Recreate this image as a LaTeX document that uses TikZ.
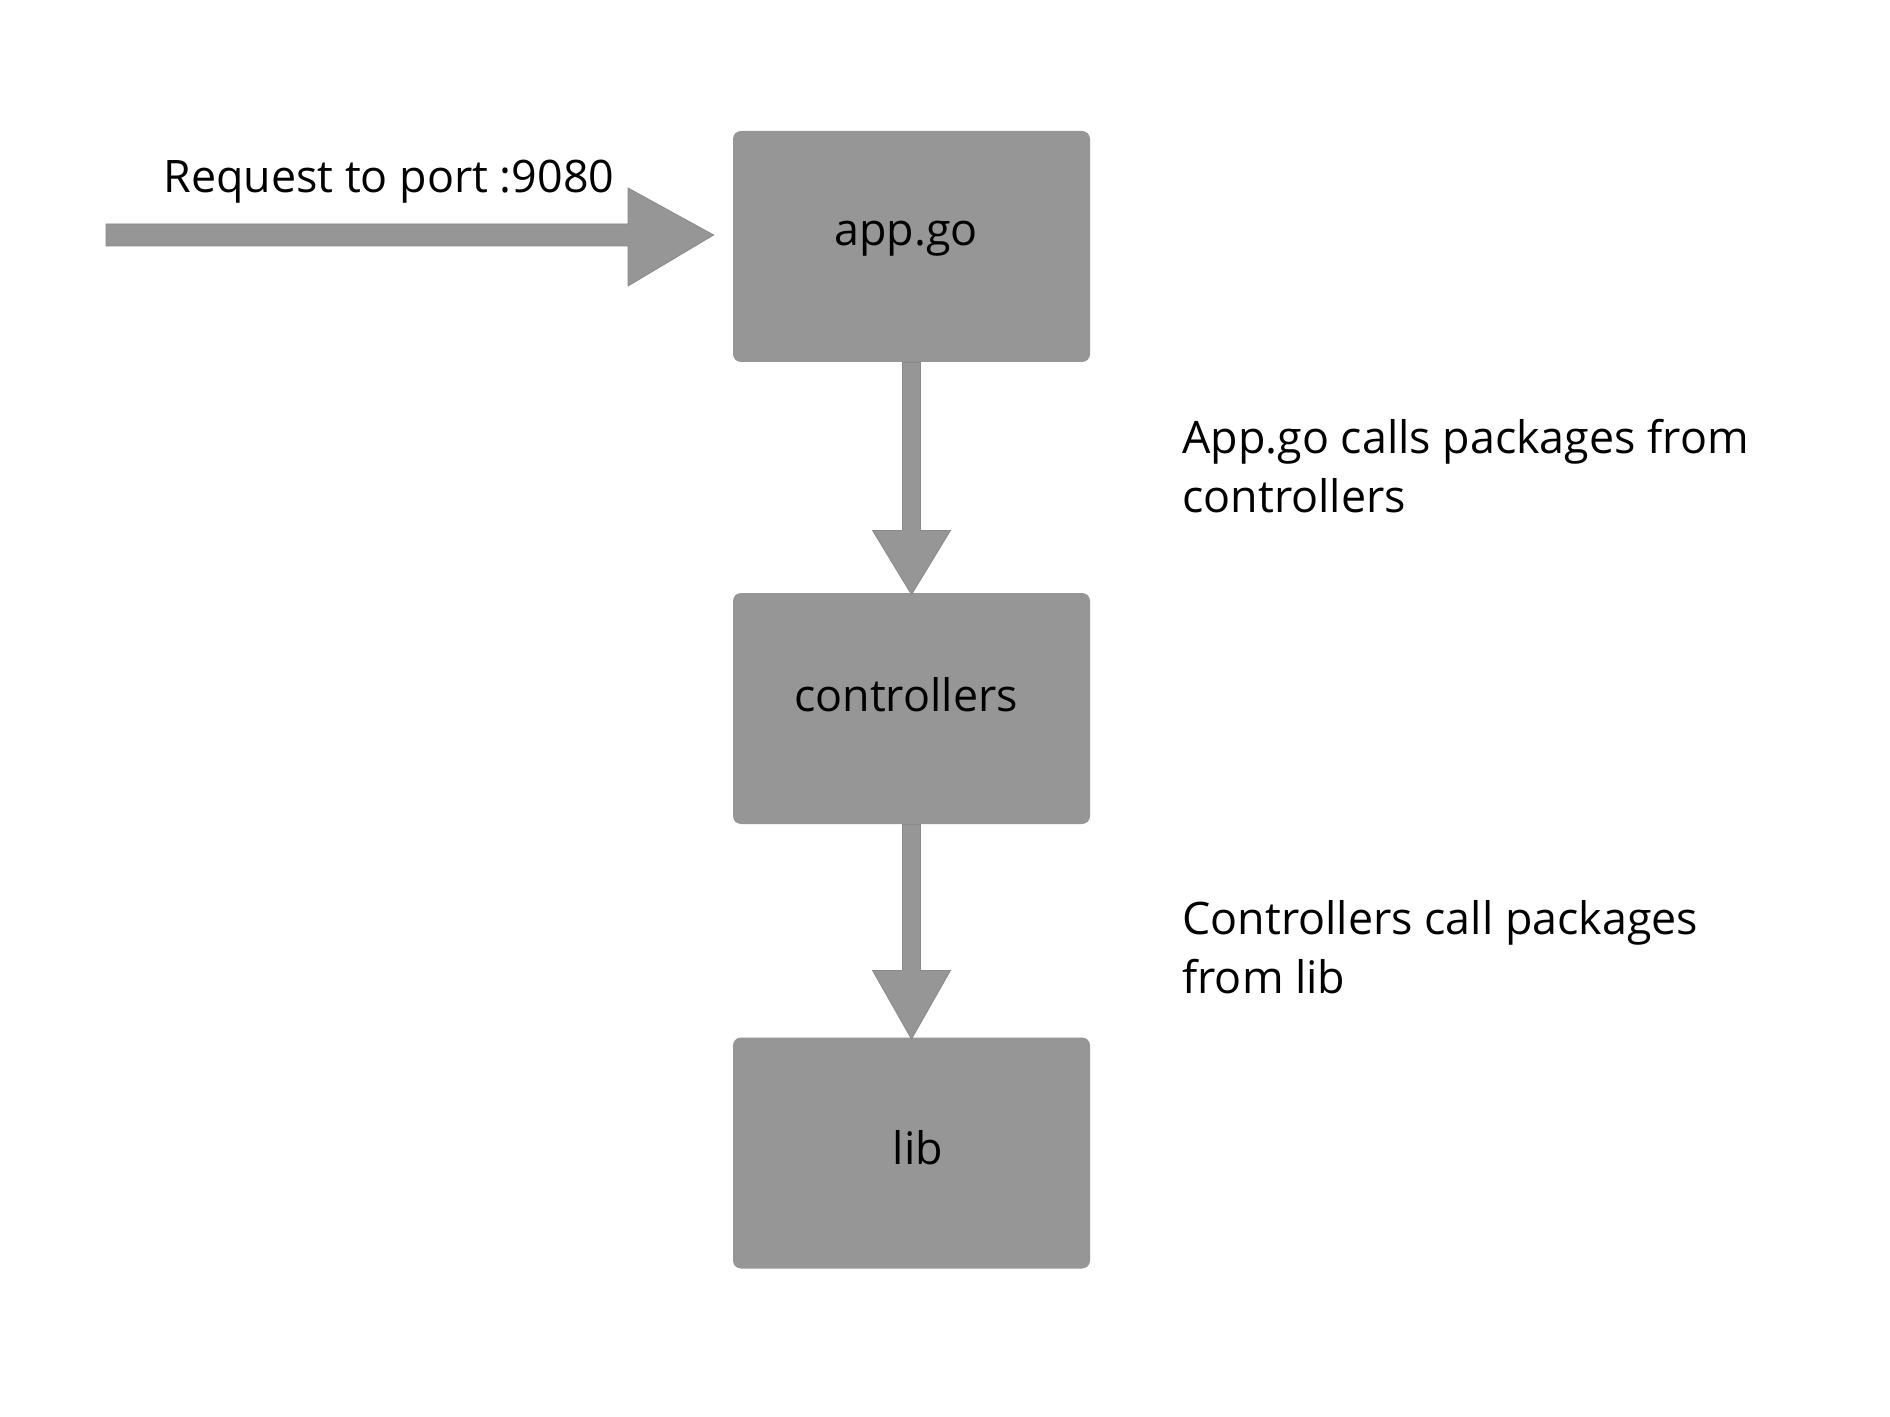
\documentclass[tikz,border=0pt]{standalone}
\usepackage{fontspec}
\setmainfont{Open Sans}
\usetikzlibrary{calc}
\definecolor{boxgray}{HTML}{969696}
\definecolor{edgegray}{HTML}{8A8A8A}
\begin{document}
\begin{tikzpicture}[x=0.5pt,y=-0.5pt,
  box/.style={fill=boxgray, rounded corners=4pt, minimum width=178.5pt, minimum height=115.5pt, inner sep=0pt},
  txt/.style={font=\fontsize{22.4pt}{30pt}\selectfont, inner sep=0pt, text=black},
  fatarrow/.style={fill=boxgray, draw=edgegray, line width=0.4pt}]
\useasboundingbox (0,0) rectangle (1890,1417);
\fill[white] (0,0) rectangle (1890,1417);
% boxes
\node[box] (app) at (911.5,246.5) {};
\node[box] (ctrl) at (911.5,708.5) {};
\node[box] (lib) at (911.5,1153) {};
% box texts
\node[txt, anchor=base] (tapp) at (906,246) {app.go};
\node[txt, anchor=base] (tctrl) at (906,711) {controllers};
\node[txt, anchor=base] (tlib) at (918,1164) {lib};
% incoming request arrow
\coordinate (start) at (106,235);
\coordinate (tipin) at ($(app.west)+(-19,-11.5)$);
\draw[fatarrow] ($(start)+(0,-11)$) -- ($(start)+(522,-11)$) -- ($(start)+(522,-47)$) -- (tipin)
  -- ($(start)+(522,51)$) -- ($(start)+(522,11)$) -- ($(start)+(0,11)$) -- cycle;
\node[txt, anchor=base west] (treq) at (163,193) {Request to port :9080};
% app -> controllers
\draw[fatarrow] ($(app.south)+(-9,0)$) -- ($(app.south)+(-9,168)$) -- ($(app.south)+(-39,168)$)
  -- ($(ctrl.north)+(0,2)$) -- ($(app.south)+(39,168)$) -- ($(app.south)+(9,168)$) -- ($(app.south)+(9,0)$) -- cycle;
% controllers -> lib
\draw[fatarrow] ($(ctrl.south)+(-9,0)$) -- ($(ctrl.south)+(-9,146)$) -- ($(ctrl.south)+(-39,146)$)
  -- ($(lib.north)+(0,2)$) -- ($(ctrl.south)+(39,146)$) -- ($(ctrl.south)+(9,146)$) -- ($(ctrl.south)+(9,0)$) -- cycle;
% side labels
\node[txt, anchor=base west] (l1a) at (1182,453) {App.go calls packages from};
\node[txt, anchor=base west] (l1b) at (1182,512) {controllers};
\node[txt, anchor=base west] (l2a) at (1182,934) {Controllers call packages};
\node[txt, anchor=base west] (l2b) at (1182,993) {from lib};
\end{tikzpicture}
\end{document}
